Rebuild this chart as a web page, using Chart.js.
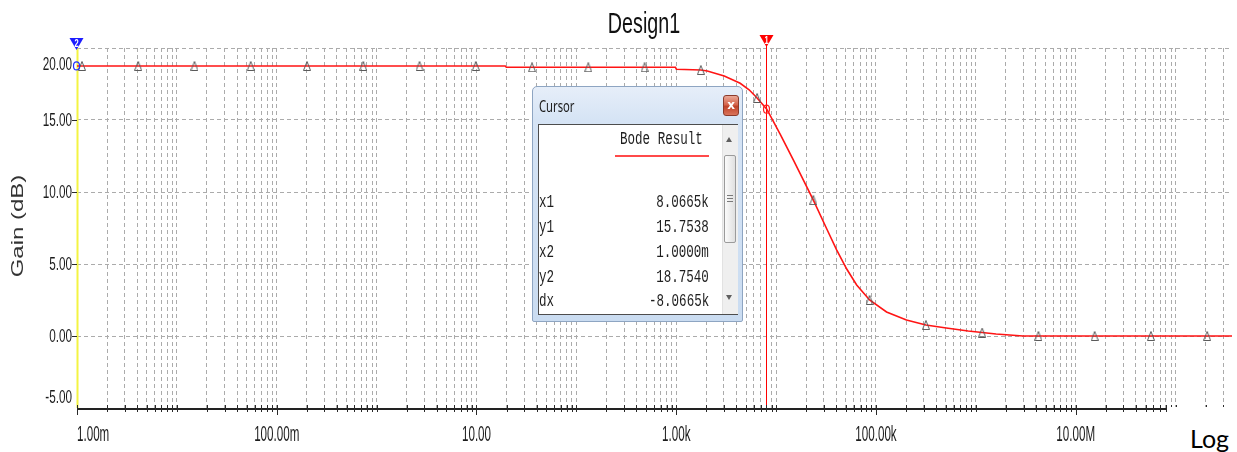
<!DOCTYPE html>
<html>
<head>
<meta charset="utf-8">
<title>Design1 - Bode plot</title>
<script src="https://cdn.jsdelivr.net/npm/chart.js@4.4.1/dist/chart.umd.min.js"></script>
<style>
  html, body { margin: 0; padding: 0; background: #fff; }
  #stage { position: relative; width: 1237px; height: 452px; overflow: hidden; }
  #plot { position: absolute; left: 0; top: 0; }
  .abs { position: absolute; white-space: nowrap; }
  .sqL { display: inline-block; transform: scaleX(0.66); transform-origin: left center; }
  .sqR { display: inline-block; transform: scaleX(0.66); transform-origin: right center; }

  /* Cursor readout window */
  #win { position: absolute; left: 532px; top: 86px; width: 211px; height: 236px; box-sizing: border-box;
         border: 1px solid #8ea5c2; border-radius: 5px 5px 2px 2px;
         background: linear-gradient(180deg, #e6eef9 0%, #d6e4f5 14%, #cadcf1 100%); }
  #winTitle { left: 539px; top: 96px; font: 17px/20px 'Noto Sans', 'Open Sans', sans-serif; color: #1b1b1b; }
  #winClose { left: 723px; top: 95px; width: 16px; height: 21px; box-sizing: border-box;
              border: 1px solid #8b3a2b; border-radius: 3px;
              background: linear-gradient(180deg, #eaa897 0%, #d5654d 45%, #c0432a 55%, #d9735a 100%);
              color: #fff; font: bold 12px/19px 'DejaVu Sans', sans-serif; text-align: center; }
  #winPane { left: 538px; top: 124px; width: 200px; height: 191px; box-sizing: border-box;
             border: 1px solid #4d4d4d; background: #fff; }
  #scrollTrack { left: 722px; top: 125px; width: 15px; height: 189px; background: #efefef; border-left: 1px solid #e2e2e2; }
  #scrollUp { left: 726px; top: 137px; width: 0; height: 0; border-left: 3.5px solid transparent;
              border-right: 3.5px solid transparent; border-bottom: 5px solid #5f5f5f; }
  #scrollDown { left: 726px; top: 295px; width: 0; height: 0; border-left: 3.5px solid transparent;
                border-right: 3.5px solid transparent; border-top: 5px solid #5f5f5f; }
  #scrollThumb { left: 724px; top: 155px; width: 12px; height: 88px; box-sizing: border-box;
                 border: 1px solid #9b9b9b; border-radius: 2px; background: linear-gradient(90deg, #fbfbfb, #e0e0e0); }
  .grip { left: 727px; width: 6px; height: 1px; background: #7a7a7a; }
  #seriesName { left: 620px; top: 129px; font: 19px/20px 'Liberation Mono', 'DejaVu Sans Mono', monospace; color: #1e1e1e; }
  #seriesSwatch { left: 615px; top: 155px; width: 94px; height: 2px; background: #ff4a4a; }
  .rowKey { left: 539px; font: 19px/20px 'Liberation Mono', 'DejaVu Sans Mono', monospace; color: #1e1e1e; }
  .rowVal { right: 528px; font: 19px/20px 'Liberation Mono', 'DejaVu Sans Mono', monospace; color: #1e1e1e; text-align: right; }

  #logBox { left: 1167px; top: 407px; width: 70px; height: 45px; background: #fff; }
  #logText { left: 1190px; top: 426px; font: 25px/25px Lato, 'Open Sans', sans-serif; color: #000; }
</style>
</head>
<body>
<div id="stage">
  <canvas id="plot" width="1237" height="452"></canvas>

  <div id="win"></div>
  <div class="abs" id="winTitle"><span class="sqL">Cursor</span></div>
  <div class="abs" id="winClose">x</div>
  <div class="abs" id="winPane"></div>
  <div class="abs" id="scrollTrack"></div>
  <div class="abs" id="scrollUp"></div>
  <div class="abs" id="scrollThumb"></div>
  <div class="abs grip" style="top:195px"></div>
  <div class="abs grip" style="top:198px"></div>
  <div class="abs grip" style="top:201px"></div>
  <div class="abs" id="scrollDown"></div>
  <div class="abs" id="seriesName"><span class="sqL">Bode Result</span></div>
  <div class="abs" id="seriesSwatch"></div>
  <div id="rows"></div>

  <div class="abs" id="logBox"></div>
  <div class="abs" id="logText">Log</div>
</div>

<script>
// ---- Frequency response: gain (dB) versus frequency (Hz) ----
const freqHz = [
  1e-3, 19.4, 19.9, 982, 1005, 1763, 2046, 3024, 4366, 5367, 6450, 8066.5,
  10940, 15085, 18980, 23600, 32170, 40470, 50930, 64060, 86300, 127560,
  201930, 316000, 505700, 837800, 1156000, 1593500, 2962000, 3.67e8
];
const gainDb = [
  18.75, 18.75, 18.66, 18.66, 18.52, 18.47, 18.40, 18.06, 17.55, 17.10, 16.53, 15.75,
  14.03, 12.15, 10.76, 9.44, 7.43, 5.97, 4.65, 3.54, 2.50, 1.67,
  1.11, 0.76, 0.56, 0.35, 0.24, 0.14, 0.00, 0.00
];

// Sample markers drawn along the trace
const markerHz = [
  1.122e-3, 4.10e-3, 0.0150, 0.0549, 0.201, 0.735, 2.69, 9.84, 36.0, 131.7, 482,
  1763, 6450, 23600, 86300, 316000, 1.156e6, 4.23e6, 1.546e7, 5.66e7, 2.07e8
];
const markerDb = [
  18.75, 18.75, 18.75, 18.75, 18.75, 18.75, 18.75, 18.75, 18.66, 18.66, 18.66,
  18.47, 16.53, 9.44, 2.50, 0.76, 0.24, 0.00, 0.00, 0.00, 0.00
];

// Cursors
const cursor1Hz = 8066.5, cursor1Db = 15.7538;
const cursor2Hz = 1.0e-3, cursor2Db = 18.7540;
const readoutKeys = ['x1', 'y1', 'x2', 'y2', 'dx'];
const readoutVals = ['8.0665k', '15.7538', '1.0000m', '18.7540', '-8.0665k'];

// Axes
const xMinHz = 1e-3, xMaxHz = 3.67e8;
const xLabelHz = [1e-3, 1e-1, 1e1, 1e3, 1e5, 1e7];
const xLabels = ['1.00m', '100.00m', '10.00', '1.00k', '100.00k', '10.00M'];
const yMinDb = -5, yMaxDb = 20;
const yLabelDb = [20, 15, 10, 5, 0, -5];
const yLabels = ['20.00', '15.00', '10.00', '5.00', '0.00', '-5.00'];

// Log grid: 1..9 x 10^n across the frequency range
function logGridValues(min, max) {
  const out = [];
  for (let e = Math.floor(Math.log10(min)); e <= Math.ceil(Math.log10(max)); e++) {
    for (let m = 1; m <= 9; m++) {
      const v = m * Math.pow(10, e);
      if (v >= min * 0.999 && v <= max) out.push(v);
    }
  }
  return out;
}
const gridHz = logGridValues(xMinHz, xMaxHz);

// Readout rows in the cursor window
(function buildRows() {
  const host = document.getElementById('rows');
  const rowCenters = [201.5, 226.5, 251.5, 276.5, 300.5];
  readoutKeys.forEach((k, i) => {
    const a = document.createElement('div');
    a.className = 'abs rowKey';
    a.style.top = (rowCenters[i] - 10) + 'px';
    a.innerHTML = '<span class="sqL">' + k + '</span>';
    const b = document.createElement('div');
    b.className = 'abs rowVal';
    b.style.top = (rowCenters[i] - 10) + 'px';
    b.innerHTML = '<span class="sqR">' + readoutVals[i] + '</span>';
    host.appendChild(a); host.appendChild(b);
  });
})();

// Narrow hollow triangle used as the marker glyph
function markerGlyph() {
  const c = document.createElement('canvas');
  c.width = 8; c.height = 10;
  const g = c.getContext('2d');
  g.strokeStyle = '#5a5a5a';
  g.lineWidth = 1;
  g.beginPath();
  g.moveTo(4, 0.5);
  g.lineTo(7.5, 9.5);
  g.lineTo(0.5, 9.5);
  g.closePath();
  g.stroke();
  return c;
}

// Text helper: the grapher uses horizontally condensed glyphs
function condensedText(ctx, text, x, y, align, font, color, sx) {
  ctx.save();
  ctx.font = font;
  ctx.fillStyle = color;
  ctx.textBaseline = 'alphabetic';
  ctx.textAlign = align;
  ctx.translate(x, y);
  ctx.scale(sx, 1);
  ctx.fillText(text, 0, 0);
  ctx.restore();
}

function cursorFlag(ctx, cx, top, color, label) {
  ctx.save();
  ctx.fillStyle = color;
  ctx.beginPath();
  ctx.moveTo(cx - 7, top);
  ctx.lineTo(cx + 7, top);
  ctx.lineTo(cx, top + 12);
  ctx.closePath();
  ctx.fill();
  ctx.fillStyle = '#fff';
  ctx.font = "bold 10px 'Liberation Sans', Arial";
  ctx.textAlign = 'center';
  ctx.textBaseline = 'alphabetic';
  ctx.translate(cx, top + 8.5);
  ctx.scale(0.75, 1);
  ctx.fillText(label, 0, 0);
  ctx.restore();
}

const grapherDecor = {
  id: 'grapherDecor',
  beforeDraw(chart) {
    const ctx = chart.ctx;
    ctx.save();
    ctx.fillStyle = '#fff';
    ctx.fillRect(0, 0, chart.width, chart.height);
    ctx.restore();
  },
  beforeDatasetsDraw(chart) {
    const { ctx, chartArea: a, scales: { x } } = chart;
    ctx.save();
    // cursor 2 line (yellow)
    const p2 = x.getPixelForValue(cursor2Hz);
    ctx.strokeStyle = '#f4f442';
    ctx.lineWidth = 2;
    ctx.beginPath();
    ctx.moveTo(p2 + 0.5, a.top);
    ctx.lineTo(p2 + 0.5, a.bottom);
    ctx.stroke();
    // cursor 1 line (red)
    const p1 = Math.round(x.getPixelForValue(cursor1Hz)) - 0.5;
    ctx.strokeStyle = '#ff0000';
    ctx.lineWidth = 1;
    ctx.beginPath();
    ctx.moveTo(p1, a.top - 2);
    ctx.lineTo(p1, a.bottom);
    ctx.stroke();
    ctx.restore();
  },
  afterDatasetsDraw(chart) {
    const { ctx, chartArea: a, scales: { x, y } } = chart;
    ctx.save();
    ctx.lineWidth = 1.2;
    // cursor/trace intersections
    ctx.strokeStyle = '#2030ff';
    ctx.beginPath();
    ctx.ellipse(x.getPixelForValue(cursor2Hz) - 0.5, y.getPixelForValue(cursor2Db), 3, 4, 0, 0, Math.PI * 2);
    ctx.stroke();
    ctx.strokeStyle = '#ff2020';
    ctx.beginPath();
    ctx.ellipse(Math.round(x.getPixelForValue(cursor1Hz)) - 0.5, y.getPixelForValue(cursor1Db), 3, 4, 0, 0, Math.PI * 2);
    ctx.stroke();
    ctx.restore();
    cursorFlag(ctx, x.getPixelForValue(cursor2Hz) - 0.5, a.top - 10, '#1d1dff', '2');
    cursorFlag(ctx, Math.round(x.getPixelForValue(cursor1Hz)) - 0.5, a.top - 13, '#ff0000', '1');
  },
  afterDraw(chart) {
    const { ctx, chartArea: a, scales: { x, y } } = chart;
    ctx.save();
    // x axis line
    ctx.strokeStyle = '#222';
    ctx.lineWidth = 2;
    ctx.beginPath();
    ctx.moveTo(a.left, a.bottom + 1);
    ctx.lineTo(a.right, a.bottom + 1);
    ctx.stroke();
    // x tick marks
    ctx.lineWidth = 1;
    ctx.strokeStyle = '#2a2a2a';
    gridHz.forEach(v => {
      const px = Math.round(x.getPixelForValue(v)) + 0.5;
      const labelled = xLabelHz.some(l => Math.abs(Math.log10(l) - Math.log10(v)) < 1e-6);
      ctx.beginPath();
      ctx.moveTo(px, a.bottom - 3);
      ctx.lineTo(px, a.bottom + (labelled ? 7 : 4));
      ctx.stroke();
    });
    // y tick marks
    yLabelDb.forEach(v => {
      const py = y.getPixelForValue(v);
      if (py <= a.top + 1 || py >= a.bottom - 1) return;
      ctx.beginPath();
      ctx.moveTo(a.left - 5, Math.round(py) + 0.5);
      ctx.lineTo(a.left, Math.round(py) + 0.5);
      ctx.stroke();
    });
    ctx.restore();

    // x labels
    xLabelHz.forEach((v, i) => {
      const px = x.getPixelForValue(v);
      const align = i === 0 ? 'left' : 'center';
      condensedText(ctx, xLabels[i], px, a.bottom + 33, align, "21.5px 'Liberation Sans', Arial", '#1c1c1c', 0.54);
    });
    // y labels
    yLabelDb.forEach((v, i) => {
      let cy = y.getPixelForValue(v);
      cy = Math.min(Math.max(cy, a.top + 16), a.bottom - 11);
      condensedText(ctx, yLabels[i], a.left - 5, cy + 6.3, 'right', "17.5px 'Liberation Sans', Arial", '#1c1c1c', 0.67);
    });
    // title
    condensedText(ctx, 'Design1', 644, 33, 'center', "29px 'Liberation Sans', Arial", '#111', 0.68);
    // y axis title
    ctx.save();
    ctx.translate(18, 226);
    ctx.scale(0.68, 1);
    ctx.rotate(-Math.PI / 2);
    ctx.font = "24px 'Liberation Sans', Arial";
    ctx.fillStyle = '#333';
    ctx.textAlign = 'center';
    ctx.textBaseline = 'middle';
    ctx.fillText('Gain (dB)', 0, 0);
    ctx.restore();
  }
};

const gridColor = '#ababab';

new Chart(document.getElementById('plot'), {
  type: 'line',
  data: {
    datasets: [
      {
        label: 'Bode Result',
        data: freqHz.map((f, i) => ({ x: f, y: gainDb[i] })),
        borderColor: '#ff1414',
        borderWidth: 1.6,
        pointRadius: 0,
        tension: 0,
        fill: false,
        order: 2
      },
      {
        label: 'markers',
        data: markerHz.map((f, i) => ({ x: f, y: markerDb[i] })),
        showLine: false,
        pointStyle: markerGlyph(),
        pointRadius: 4,
        order: 1
      }
    ]
  },
  options: {
    responsive: false,
    animation: false,
    events: [],
    layout: { padding: { left: 77, top: 48, right: 0, bottom: 44 } },
    plugins: { legend: { display: false }, tooltip: { enabled: false }, title: { display: false } },
    scales: {
      x: {
        type: 'logarithmic',
        min: xMinHz,
        max: xMaxHz,
        afterBuildTicks: s => { s.ticks = gridHz.map(v => ({ value: v })); },
        ticks: { display: false },
        grid: { color: gridColor, lineWidth: 1, drawTicks: false },
        border: { display: false, dash: [4, 3] }
      },
      y: {
        type: 'linear',
        min: yMinDb,
        max: yMaxDb,
        afterBuildTicks: s => { s.ticks = yLabelDb.map(v => ({ value: v })); },
        ticks: { display: false },
        grid: { color: gridColor, lineWidth: 1, drawTicks: false },
        border: { display: false, dash: [4, 3] }
      }
    }
  },
  plugins: [grapherDecor]
});
</script>
</body>
</html>
